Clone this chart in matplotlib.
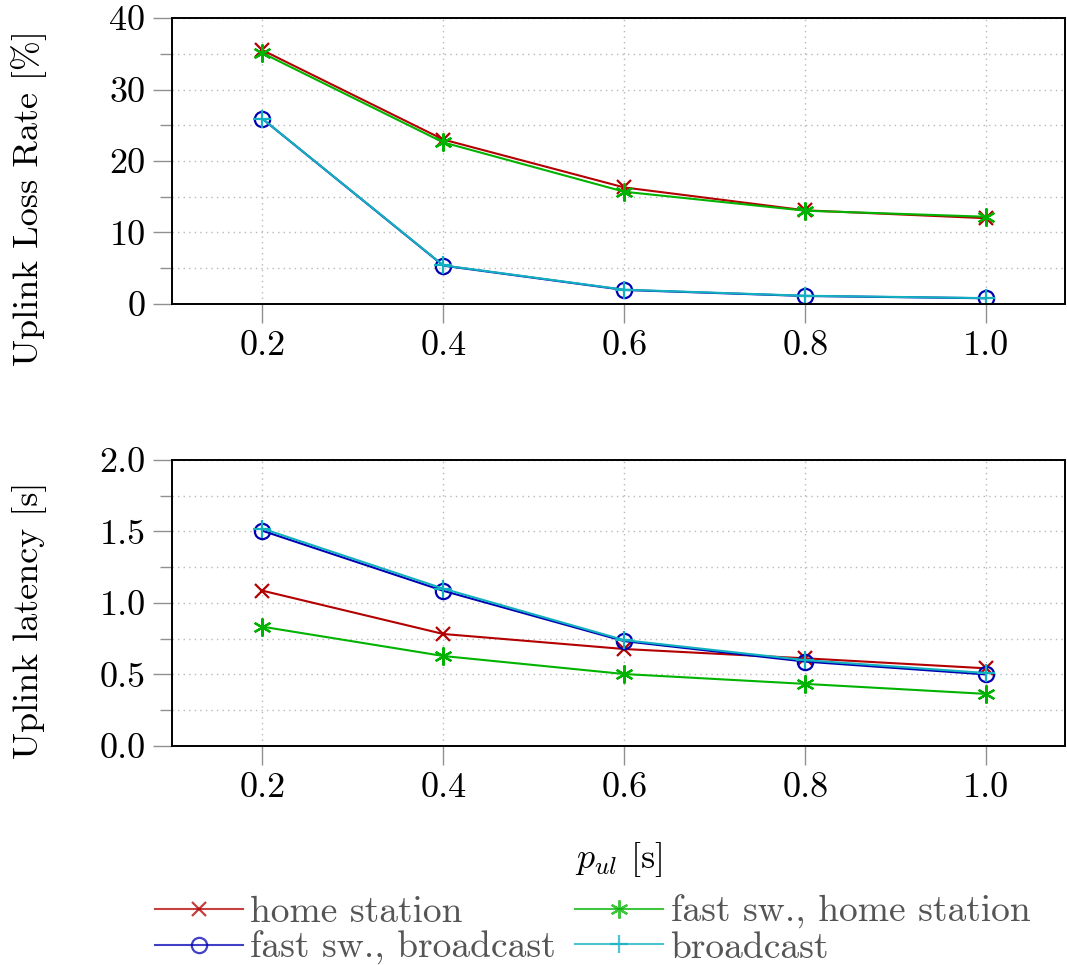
import numpy as np
import matplotlib
matplotlib.use("Agg")
import matplotlib.pyplot as plt
from matplotlib.ticker import MultipleLocator

plt.rcParams["font.family"] = ["cmr10", "DejaVu Serif"]
plt.rcParams["mathtext.fontset"] = "cm"
plt.rcParams["axes.formatter.use_mathtext"] = True

p_ul = [0.2, 0.4, 0.6, 0.8, 1.0]

# uplink loss rate [%]
loss_home = [35.5, 23.0, 16.3, 13.1, 12.0]
loss_fast_home = [35.1, 22.6, 15.7, 13.05, 12.2]
loss_fast_bcast = [25.9, 5.36, 1.96, 1.12, 0.8]
loss_bcast = [25.9, 5.4, 2.0, 1.15, 0.82]

# uplink latency [s]
lat_home = [1.086, 0.783, 0.678, 0.613, 0.543]
lat_fast_home = [0.834, 0.629, 0.503, 0.434, 0.364]
lat_fast_bcast = [1.505, 1.085, 0.733, 0.59, 0.50]
lat_bcast = [1.52, 1.10, 0.74, 0.60, 0.51]

labels = ["home station", "fast sw., home station", "fast sw., broadcast", "broadcast"]
colors = ["#b30000", "#00b300", "#0000b3", "#13b0c0"]
markers = ["x", (6, 2, 0), "o", "+"]
msizes = [10, 13, 11, 13]

fig = plt.figure(figsize=(10.67, 9.65), dpi=100)
ax1 = fig.add_axes([0.1612, 0.685, 0.8368, 0.2963])
ax2 = fig.add_axes([0.1612, 0.227, 0.8368, 0.2963])

fs = 26


def draw(ax, series, ylim, major, minor, ylabel, fmt):
    for vals, lab, c, m, ms in zip(series, labels, colors, markers, msizes):
        ax.plot(p_ul, vals, color=c, lw=1.5, marker=m, ms=ms,
                mfc="none", mec=c, mew=1.6, label=lab)
    ax.set_xlim(0.1, 1.087)
    ax.set_ylim(*ylim)
    ax.yaxis.set_major_locator(MultipleLocator(major))
    ax.yaxis.set_minor_locator(MultipleLocator(minor))
    ax.set_xticks(p_ul)
    ax.set_xticklabels([f"{v:.1f}" for v in p_ul])
    ax.set_yticklabels([fmt.format(v) for v in ax.get_yticks()])
    ax.set_ylim(*ylim)
    ax.grid(True, which="major", axis="x", color="#b8b8b8", ls=(0, (1, 3)), lw=1.0)
    ax.grid(True, which="both", axis="y", color="#b8b8b8", ls=(0, (1, 3)), lw=1.0)
    ax.tick_params(axis="both", which="major", direction="out", length=14,
                   width=1.0, color="#909090", labelsize=fs, pad=5)
    ax.tick_params(axis="y", which="minor", direction="out", length=9,
                   width=1.0, color="#909090")
    ax.tick_params(axis="x", which="minor", bottom=False)
    for s in ax.spines.values():
        s.set_linewidth(1.4)
        s.set_color("black")
    ax.set_ylabel(ylabel, fontsize=fs)


draw(ax1, [loss_home, loss_fast_home, loss_fast_bcast, loss_bcast],
     (0, 40), 10, 5, "Uplink Loss Rate [%]", "{:.0f}")
draw(ax2, [lat_home, lat_fast_home, lat_fast_bcast, lat_bcast],
     (0, 2.0), 0.5, 0.25, "Uplink latency [s]", "{:.1f}")

ax1.yaxis.set_label_coords(-0.14, 0.37)
ax2.yaxis.set_label_coords(-0.14, 0.44)

ax2.set_xlabel(r"$p_{ul}$ [s]", fontsize=fs)
ax2.xaxis.set_label_coords(0.5, -0.33)

handles, labs = ax2.get_legend_handles_labels()
order = [0, 2, 1, 3]
leg = fig.legend([handles[i] for i in order], [labs[i] for i in order],
                 ncol=2, frameon=False, fontsize=27,
                 loc="upper left", bbox_to_anchor=(0.131, 0.088),
                 handlelength=2.35, handletextpad=0.2, columnspacing=0.5,
                 labelspacing=0.05, borderaxespad=0)
for t in leg.get_texts():
    t.set_color("#555555")
for h in leg.legend_handles:
    h.set_alpha(0.75)

fig.savefig("out.png", dpi=100)
